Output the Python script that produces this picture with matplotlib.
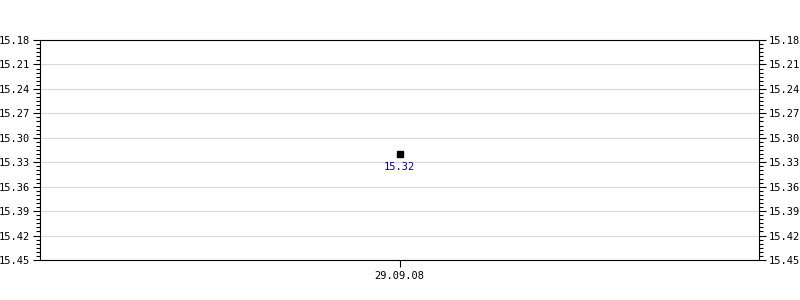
import matplotlib
matplotlib.use('Agg')
import matplotlib.pyplot as plt
from matplotlib.ticker import MultipleLocator, FormatStrFormatter
import numpy as np

# Data
dates = ['29.09.08']
prices = [15.32]
value_labels = ['15.32']

y_top = 15.18
y_bottom = 15.45

plt.rcParams['font.family'] = ['DejaVu Sans Mono']
plt.rcParams['font.size'] = 7.5

fig = plt.figure(figsize=(8, 3), dpi=100)
ax = fig.add_axes([0.05, 0.1333, 0.899, 0.7334])

x = np.arange(len(dates))
ax.plot(x, prices, linestyle='None', marker='s', markersize=4, color='black', zorder=3)
for xi, yi, lab in zip(x, prices, value_labels):
    ax.annotate(lab, (xi, yi), xytext=(0, -5.5), textcoords='offset points',
                ha='center', va='top', color='#00008b', fontsize=7.5)

ax.set_xlim(-1, 1)
ax.set_ylim(y_bottom, y_top)
ax.set_xticks(x)
ax.set_xticklabels(dates)

ax.yaxis.set_major_locator(MultipleLocator(0.03))
ax.yaxis.set_minor_locator(MultipleLocator(0.005))
ax.yaxis.set_major_formatter(FormatStrFormatter('%.2f'))
ax.tick_params(axis='y', which='both', left=True, right=True, labelleft=True, labelright=True,
               direction='out', color='black')
ax.tick_params(axis='y', which='major', length=5, width=0.8, pad=2)
ax.tick_params(axis='y', which='minor', length=3, width=0.8)
ax.tick_params(axis='x', which='major', length=5, width=0.8, pad=3)

ax.grid(axis='y', which='major', color='#d8d8d8', linewidth=0.8)
ax.set_axisbelow(True)
for s in ax.spines.values():
    s.set_linewidth(0.8)

fig.savefig('out.png', dpi=100)
